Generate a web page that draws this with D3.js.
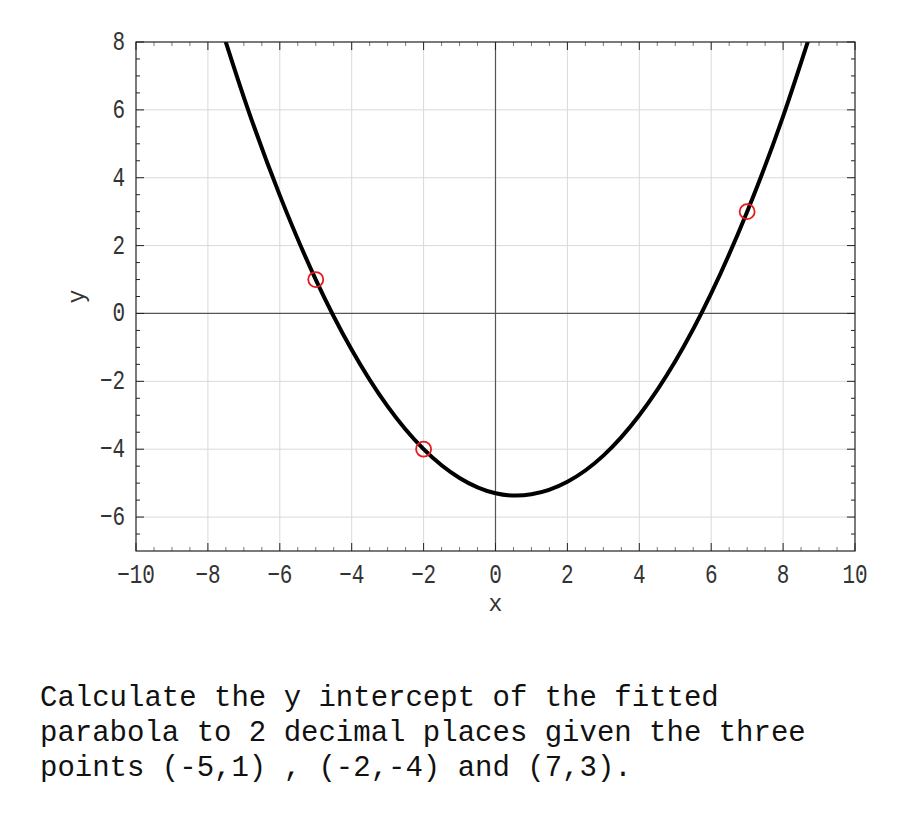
<!DOCTYPE html>
<html><head><meta charset="utf-8">
<script src="https://cdn.jsdelivr.net/npm/d3@7"></script>
<style>body{margin:0;background:#fff}</style>
</head><body>
<svg id="c" width="900" height="825"></svg>
<script>
// Data points given in the question
const pointsX = [-5, -2, 7];
const pointsY = [1, -4, 3];
// Fitted curve at integer x
const curveX = [-8, -7, -6, -5, -4, -3, -2, -1, 0, 1, 2, 3, 4, 5, 6, 7, 8, 9];
const curveY = [9.67, 6.37, 3.48, 1.0, -1.07, -2.74, -4.0, -4.85, -5.30, -5.33, -4.96, -4.19, -3.0, -1.41, 0.59, 3.0, 5.81, 9.04];
const xTicks = [-10, -8, -6, -4, -2, 0, 2, 4, 6, 8, 10];
const yTicks = [-6, -4, -2, 0, 2, 4, 6, 8];
const question = ["Calculate the y intercept of the fitted",
                  "parabola to 2 decimal places given the three",
                  "points (-5,1) , (-2,-4) and (7,3)."];

const svg = d3.select("#c");
const L = 136, R = 855, T = 42, B = 551;
const x = d3.scaleLinear().domain([-10, 10]).range([L, R]);
const y = d3.scaleLinear().domain([-7, 8]).range([B, T]);
const tickFont = "'Liberation Mono', monospace";
const fmt = d => (d < 0 ? "\u2212" + Math.abs(d) : "" + d);

// grid
const g = svg.append("g");
g.selectAll(".gx").data(xTicks.filter(d => d > -10 && d < 10 && d !== 0)).enter().append("line")
  .attr("x1", d => x(d)).attr("x2", d => x(d)).attr("y1", T).attr("y2", B)
  .attr("stroke", "#d9d9d9").attr("stroke-width", 1);
g.selectAll(".gy").data(yTicks.filter(d => d > -7 && d < 8 && d !== 0)).enter().append("line")
  .attr("y1", d => y(d)).attr("y2", d => y(d)).attr("x1", L).attr("x2", R)
  .attr("stroke", "#d9d9d9").attr("stroke-width", 1);
// zero axes
g.append("line").attr("x1", x(0)).attr("x2", x(0)).attr("y1", T).attr("y2", B).attr("stroke", "#555").attr("stroke-width", 1.2);
g.append("line").attr("y1", y(0)).attr("y2", y(0)).attr("x1", L).attr("x2", R).attr("stroke", "#555").attr("stroke-width", 1.2);

// minor ticks
const xMinor = d3.range(-19, 20).map(d => d / 2).filter(d => !xTicks.includes(d));
const yMinor = d3.range(-13, 16).map(d => d / 2).filter(d => !yTicks.includes(d) && d > -7 && d < 8);
const ticks = svg.append("g");
xMinor.forEach(d => {
  ticks.append("line").attr("x1", x(d)).attr("x2", x(d)).attr("y1", B).attr("y2", B - 4).attr("stroke", "#777").attr("stroke-width", 1);
  ticks.append("line").attr("x1", x(d)).attr("x2", x(d)).attr("y1", T).attr("y2", T + 4).attr("stroke", "#777").attr("stroke-width", 1);
});
xTicks.forEach(d => {
  ticks.append("line").attr("x1", x(d)).attr("x2", x(d)).attr("y1", B).attr("y2", B - 8).attr("stroke", "#222").attr("stroke-width", 1);
  ticks.append("line").attr("x1", x(d)).attr("x2", x(d)).attr("y1", T).attr("y2", T + 8).attr("stroke", "#222").attr("stroke-width", 1);
});
yMinor.forEach(d => {
  ticks.append("line").attr("y1", y(d)).attr("y2", y(d)).attr("x1", L).attr("x2", L + 4).attr("stroke", "#222").attr("stroke-width", 1);
  ticks.append("line").attr("y1", y(d)).attr("y2", y(d)).attr("x1", R).attr("x2", R - 4).attr("stroke", "#222").attr("stroke-width", 1);
});
yTicks.forEach(d => {
  ticks.append("line").attr("y1", y(d)).attr("y2", y(d)).attr("x1", L).attr("x2", L + 8).attr("stroke", "#222").attr("stroke-width", 1);
  ticks.append("line").attr("y1", y(d)).attr("y2", y(d)).attr("x1", R).attr("x2", R - 8).attr("stroke", "#222").attr("stroke-width", 1);
});

// curve
svg.append("clipPath").attr("id", "clip").append("rect").attr("x", L).attr("y", T).attr("width", R - L).attr("height", B - T);
const line = d3.line().x(d => x(d[0])).y(d => y(d[1])).curve(d3.curveNatural);
svg.append("path").datum(curveX.map((d, i) => [d, curveY[i]]))
  .attr("d", line).attr("fill", "none").attr("stroke", "#000").attr("stroke-width", 4)
  .attr("clip-path", "url(#clip)");

// points
svg.selectAll(".pt").data(pointsX).enter().append("circle")
  .attr("cx", d => x(d)).attr("cy", (d, i) => y(pointsY[i])).attr("r", 7.5)
  .attr("fill", "none").attr("stroke", "#e41a1c").attr("stroke-width", 1.8);

// frame
svg.append("rect").attr("x", L).attr("y", T).attr("width", R - L).attr("height", B - T)
  .attr("fill", "none").attr("stroke", "#222").attr("stroke-width", 1.2);

// tick labels (slightly tall, narrow monospace look)
svg.selectAll(".xl").data(xTicks).enter().append("text")
  .attr("transform", d => "translate(" + x(d) + ",583) scale(1,1.28)").attr("text-anchor", "middle")
  .attr("font-family", tickFont).attr("font-size", 21).attr("fill", "#333").text(fmt);
svg.selectAll(".yl").data(yTicks).enter().append("text")
  .attr("transform", d => "translate(125," + (y(d) + 8) + ") scale(1,1.28)").attr("text-anchor", "end")
  .attr("font-family", tickFont).attr("font-size", 21).attr("fill", "#333").text(fmt);

// axis labels
svg.append("text").attr("x", x(0)).attr("y", 611).attr("text-anchor", "middle")
  .attr("font-family", "'Liberation Mono', monospace").attr("font-size", 23).attr("fill", "#333").text("x");
svg.append("text").attr("transform", "translate(84," + y(0.5) + ") rotate(-90)").attr("text-anchor", "middle")
  .attr("font-family", "'Liberation Mono', monospace").attr("font-size", 23).attr("fill", "#333").text("y");

// question text
svg.selectAll(".q").data(question).enter().append("text")
  .attr("x", 40).attr("y", (d, i) => 706 + i * 35)
  .attr("font-family", "'Liberation Mono', 'Courier New', monospace").attr("font-size", 29)
  .attr("fill", "#111").attr("xml:space", "preserve").text(d => d);
</script>
</body></html>
